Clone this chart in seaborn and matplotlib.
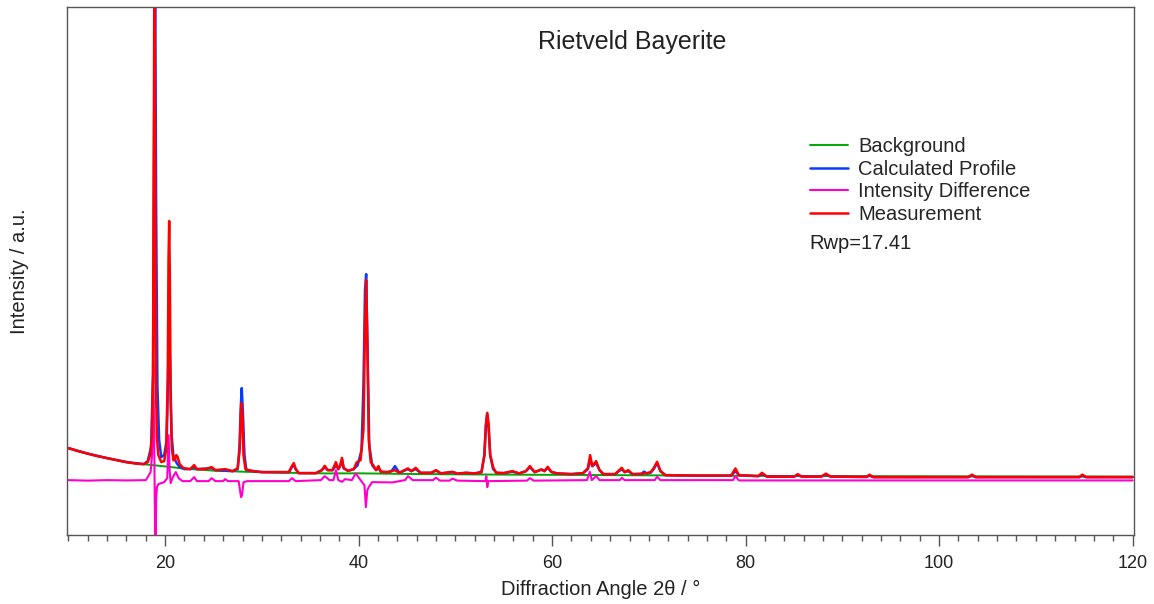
"""
Rietveld refinement plot for Bayerite, rebuilt with seaborn.
Intensities are in arbitrary units read off the original figure.
"""

import matplotlib
matplotlib.use("Agg")

import matplotlib.pyplot as plt
from matplotlib.ticker import MultipleLocator
import seaborn as sns

# --------------------------------
# data (2theta in degrees, intensity in a.u.)

meas_x = [10.0, 11.0, 12.0, 13.0, 14.0, 15.0, 16.0, 17.0, 17.8, 18.2,
          18.45, 18.62, 18.75, 18.83, 18.9, 18.98, 19.05, 19.15, 19.3, 19.6,
          19.9, 20.1, 20.27, 20.35, 20.42, 20.49, 20.57, 20.69, 20.85, 21.0,
          21.15, 21.3, 21.5, 21.9, 22.6, 23.0, 23.3, 24.2, 24.8, 25.2,
          26.2, 27.0, 27.5, 27.7, 27.8, 27.9, 28.0, 28.1, 28.3, 29.0,
          30.0, 32.8, 33.1, 33.3, 33.5, 33.8, 35.6, 36.2, 36.5, 36.8,
          37.3, 37.65, 37.9, 38.1, 38.28, 38.45, 38.9, 39.5, 39.8, 40.2,
          40.5, 40.65, 40.78, 40.9, 41.05, 41.25, 41.5, 41.8, 42.05, 42.3,
          43.0, 43.76, 44.2, 45.1, 45.45, 45.9, 46.4, 47.5, 48.0, 48.5,
          49.7, 50.2, 51.1, 52.0, 52.7, 53.0, 53.15, 53.3, 53.45, 53.6,
          53.9, 54.2, 55.0, 55.9, 56.6, 57.3, 57.7, 58.2, 58.9, 59.2,
          59.55, 59.9, 60.5, 62.0, 63.2, 63.7, 63.93, 64.15, 64.55, 64.9,
          65.3, 66.5, 67.2, 67.5, 67.87, 68.3, 69.5, 70.2, 70.5, 70.85,
          71.2, 71.7, 75.0, 78.5, 78.95, 79.3, 81.3, 81.7, 82.2, 85.0,
          85.4, 85.8, 87.8, 88.3, 88.8, 92.5, 92.8, 93.2, 103.0, 103.4,
          103.8, 114.5, 114.8, 115.2, 120.0]
meas_y = [87, 84, 81.5, 79, 77, 75, 73, 71.5, 71, 73,
          80, 97, 160, 385, 600, 335, 150, 97, 80, 73,
          74, 85, 155, 275, 314, 255, 135, 87, 75, 75,
          80, 78, 71, 67, 66, 70, 66, 66, 68, 65,
          66, 64, 67, 85, 115, 132, 115, 80, 66, 64,
          63, 63, 69, 72, 66, 62, 62, 65, 69.3, 65,
          65, 73, 66, 70, 77.3, 67, 64.3, 66, 72.7, 75,
          105, 205, 255, 195, 95, 73, 70, 65, 69, 63.3,
          63, 65, 62.3, 66.7, 64, 67.3, 62.3, 62.3, 65, 61.7,
          63.3, 61.5, 62.3, 61.7, 63, 80, 110, 122.3, 110, 80,
          68, 62.3, 62, 64, 61.7, 64, 69, 63, 65.7, 64,
          68.3, 63.3, 61.7, 61, 62, 67, 80, 69, 74, 65,
          61, 61, 67.3, 63, 65, 61, 61.5, 63, 67, 73.3,
          64, 60, 59.5, 59.5, 66.7, 60, 59, 62.3, 58.5, 58.5,
          61, 58.5, 58.5, 61.5, 58.5, 58.2, 60.5, 58, 58, 60.5,
          58, 58, 60.5, 58, 58]

calc_x = [10.0, 12.0, 14.0, 16.0, 17.8, 18.2, 18.55, 18.75, 18.87, 18.97,
          19.07, 19.2, 19.38, 19.6, 19.9, 20.17, 20.3, 20.42, 20.54, 20.67,
          20.85, 21.0, 21.2, 21.5, 22.0, 22.6, 23.0, 23.3, 24.8, 25.2,
          27.0, 27.5, 27.7, 27.8, 27.92, 28.05, 28.2, 28.4, 30.0, 32.8,
          33.1, 33.3, 33.5, 33.8, 35.6, 36.2, 36.5, 36.8, 37.3, 37.7,
          37.9, 38.1, 38.3, 38.45, 38.9, 39.5, 39.9, 40.3, 40.5, 40.66,
          40.78, 40.92, 41.1, 41.4, 41.8, 42.05, 42.3, 43.0, 43.4, 43.76,
          44.2, 45.1, 45.45, 45.9, 46.4, 47.5, 48.0, 48.5, 49.7, 50.2,
          51.1, 52.0, 52.7, 53.0, 53.15, 53.28, 53.42, 53.6, 53.9, 54.3,
          55.0, 55.9, 56.6, 57.3, 57.7, 58.2, 58.9, 59.2, 59.55, 59.9,
          60.5, 62.0, 63.2, 63.7, 63.93, 64.15, 64.55, 64.9, 65.3, 66.5,
          67.2, 67.5, 67.87, 68.3, 69.2, 69.5, 69.8, 70.2, 70.5, 70.85,
          71.2, 71.7, 75.0, 78.5, 78.95, 79.3, 81.3, 81.7, 82.2, 85.0,
          85.4, 85.8, 87.8, 88.3, 88.8, 92.5, 92.8, 93.2, 103.0, 103.4,
          103.8, 114.5, 114.8, 115.2, 120.0]
calc_y = [87, 81.5, 77, 73, 71, 74, 88, 160, 420, 560,
          330, 150, 95, 78, 80, 95, 160, 210, 160, 100,
          80, 76, 72, 68, 66, 66, 68, 66, 67, 65,
          64, 66, 90, 125, 147, 120, 80, 65, 63, 63,
          68, 70, 66, 62, 62, 65, 68, 65, 65, 70,
          66, 69, 75, 67, 64.3, 66, 70, 85, 150, 245,
          261, 185, 90, 70, 65, 67, 63.3, 63, 64, 69,
          62.3, 66, 64, 66, 62.3, 62.3, 64.5, 61.7, 63, 61.5,
          62.3, 61.7, 63, 80, 108, 121, 108, 80, 66, 62.3,
          62, 63.5, 61.7, 64, 68, 63, 65.5, 64, 67.5, 63.3,
          61.7, 61, 62, 66, 76, 69, 72, 65, 61, 61,
          66, 63, 64, 61, 61, 63.5, 61.5, 62.5, 66, 72,
          64, 60, 59.5, 59.5, 64, 60, 59, 61, 58.5, 58.5,
          60, 58.5, 58.5, 60.5, 58.5, 58.2, 59.5, 58, 58, 59.5,
          58, 58, 59.5, 58, 58]

bkg_x = [10, 11, 12, 13, 14, 15, 16, 17, 18, 20,
         22, 25, 28.4, 32, 36.7, 40, 45, 50, 55, 60,
         70, 80, 90, 100, 120]
bkg_y = [87, 84, 81.5, 79, 77, 75, 73, 71.7, 70.7, 68.7,
         66.5, 64.5, 63.3, 62.5, 61.7, 61.8, 61.2, 60.8, 60.5, 60.3,
         59.8, 59.3, 59.0, 58.8, 58.5]

diff_x = [10.0, 12.0, 14.0, 16.0, 18.0, 18.2, 18.5, 18.65, 18.77, 18.85,
          18.93, 19.0, 19.07, 19.15, 19.3, 19.6, 19.9, 20.22, 20.35, 20.47,
          20.57, 20.8, 21.1, 21.4, 21.8, 22.6, 23.0, 23.3, 24.5, 24.8,
          25.2, 26.0, 26.2, 26.5, 27.6, 27.85, 27.95, 28.1, 28.5, 32.8,
          33.1, 33.5, 36.1, 36.5, 37.0, 37.4, 37.66, 37.9, 38.28, 38.6,
          39.3, 39.7, 40.2, 40.6, 40.75, 40.9, 41.05, 41.4, 43.5, 44.5,
          44.8, 45.1, 45.6, 47.7, 48.0, 48.4, 49.4, 49.7, 50.2, 53.1,
          53.2, 53.3, 53.4, 57.4, 57.7, 58.1, 63.6, 63.9, 64.1, 64.55,
          64.9, 67.0, 67.2, 67.5, 70.6, 70.85, 71.2, 78.7, 78.95, 79.3,
          120.0]
diff_y = [55, 54.5, 55, 54.7, 55, 58, 63, 80, 169, 115,
          35, -25, 35, 48, 51, 52, 53, 57, 100, 65,
          52, 58, 63, 57, 54, 54, 58, 54, 54, 57,
          54, 54, 56, 54, 54, 38, 40, 53, 54, 54,
          57, 54, 55, 59, 55, 55, 65, 55, 53.3, 56,
          55, 61.7, 55, 50, 28, 45, 48, 53, 52.7, 54.5,
          55, 59, 55, 55, 57.5, 54.5, 54.5, 56.5, 54.5, 54,
          59, 48, 54, 54.5, 57, 54.5, 55, 63.3, 55, 59,
          55, 55, 57.3, 55, 55, 58.3, 55, 55, 59, 54.7,
          54.7]

x_ticks = [20, 40, 60, 80, 100, 120]

# --------------------------------

sns.set_theme(style="ticks")
plt.rcParams["font.family"] = ["Liberation Sans", "DejaVu Sans"]

fig = plt.figure(figsize=(11.54, 6.04), dpi=100)
ax = fig.add_axes([0.058, 0.114, 0.9247, 0.8744])

sns.lineplot(x=bkg_x, y=bkg_y, color="#00A800", linewidth=1.4,
             label="Background", ax=ax)
sns.lineplot(x=calc_x, y=calc_y, color="#0A3CFF", linewidth=1.8,
             label="Calculated Profile", ax=ax)
sns.lineplot(x=diff_x, y=diff_y, color="#FF00CC", linewidth=1.5,
             label="Intensity Difference", ax=ax)
sns.lineplot(x=meas_x, y=meas_y, color="#FF0000", linewidth=1.8,
             label="Measurement", ax=ax)

ax.set_xlim(9.85, 120.15)
ax.set_ylim(0, 528)

ax.set_xticks(x_ticks)
ax.xaxis.set_minor_locator(MultipleLocator(2))
ax.tick_params(axis="x", which="major", length=8, width=1, color="#555555",
               labelsize=13, pad=6, labelcolor="#222222")
ax.tick_params(axis="x", which="minor", length=4.5, width=1, color="#555555")
ax.set_yticks([])

for side in ["left", "right", "top", "bottom"]:
    ax.spines[side].set_color("#555555")
    ax.spines[side].set_linewidth(1.0)

ax.set_xlabel("Diffraction Angle 2θ / °", fontsize=14.5, color="#222222",
              labelpad=6)
ax.set_ylabel("Intensity / a.u.", fontsize=14.5, color="#222222", labelpad=27)

ax.text(0.530, 0.934, "Rietveld Bayerite", transform=ax.transAxes,
        ha="center", va="center", fontsize=18, color="#222222")

ax.legend(loc="upper left", bbox_to_anchor=(0.696, 0.753), frameon=False,
          fontsize=14.5, handlelength=1.9, handletextpad=0.5,
          labelspacing=0.17, borderaxespad=0, borderpad=0)

ax.text(0.696, 0.553, "Rwp=17.41", transform=ax.transAxes,
        ha="left", va="center", fontsize=14.5, color="#222222")

fig.savefig("out.png", dpi=100)
plt.close(fig)
